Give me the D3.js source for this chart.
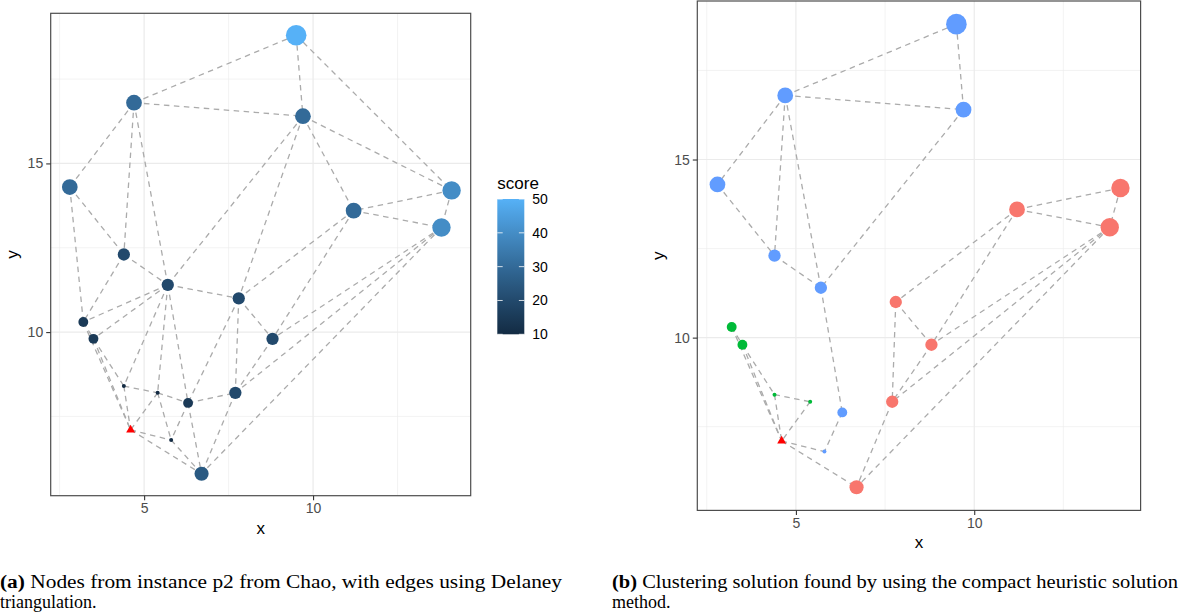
<!DOCTYPE html>
<html>
<head>
<meta charset="utf-8">
<script src="https://cdnjs.cloudflare.com/ajax/libs/d3/7.8.5/d3.min.js"></script>
<style>
    body { margin: 0; background: #fff; }
    svg { display: block; }
</style>
</head>
<body>
<svg id="chart" width="1184" height="615"></svg>
<script>
// node coordinates (index 17 is the depot)
const nodeX = [9.5, 4.7, 9.7, 2.8, 14.1, 11.2, 13.8, 4.4, 5.7, 7.8, 3.2, 3.5, 8.8, 4.4, 5.4, 6.3, 7.7, 4.6, 5.8, 6.7];
const nodeY = [18.8, 16.8, 16.4, 14.3, 14.2, 13.6, 13.1, 12.3, 11.4, 11.0, 10.3, 9.8, 9.8, 8.4, 8.2, 7.9, 8.2, 7.1, 6.8, 5.8];
const nodeScore = [50, 30, 30, 30, 40, 30, 40, 20, 20, 20, 15, 15, 20, 10, 10, 15, 20, null, 10, 25];
// cluster of each node in the heuristic solution: 1 red, 2 green, 3 blue, 0 depot
const nodeCluster = [3, 3, 3, 3, 1, 1, 1, 3, 3, 1, 2, 2, 1, 2, 2, 3, 1, 0, 3, 1];

// delaunay edges (pairs of node indices)
const edges = [
    [0, 1], [0, 2], [0, 4],
    [1, 2], [1, 3], [1, 7], [1, 8],
    [2, 4], [2, 5], [2, 8], [2, 9],
    [3, 7], [3, 10],
    [4, 5], [4, 6],
    [5, 6], [5, 9], [5, 12],
    [6, 12], [6, 16], [6, 19],
    [7, 8], [7, 10],
    [8, 9], [8, 10], [8, 11], [8, 13], [8, 14], [8, 15],
    [9, 12], [9, 15], [9, 16],
    [10, 11], [10, 17],
    [11, 13], [11, 17],
    [12, 16],
    [13, 14], [13, 17],
    [14, 15], [14, 17], [14, 18],
    [15, 16], [15, 18], [15, 19],
    [16, 19],
    [17, 18], [17, 19],
    [18, 19]
];

const xTicks = [5, 10];
const yTicks = [10, 15];
const xMinor = [2.5, 7.5, 12.5];
const yMinor = [7.5, 12.5, 17.5];
const scoreBreaks = [10, 20, 30, 40, 50];

const clusterColors = { 1: '#F8766D', 2: '#00BA38', 3: '#619CFF' };

const captionA = ['(a)', ' Nodes from instance p2 from Chao, with edges using Delaney', 'triangulation.'];
const captionB = ['(b)', ' Clustering solution found by using the compact heuristic solution', 'method.'];

const svg = d3.select('#chart');

// ggplot style 5% expansion of the data range
function expand(values) {
    const [lo, hi] = d3.extent(values);
    const pad = (hi - lo) * 0.05;
    return [lo - pad, hi + pad];
}
const xDomain = expand(nodeX);
const yDomain = expand(nodeY);

const scoreExtent = d3.extent(nodeScore.filter(s => s !== null));
const colorScale = d3.scaleLinear()
    .domain(scoreExtent)
    .range(['#132B43', '#56B1F7'])
    .interpolate(d3.interpolateLab);
// area palette like scale_size
const sizeScale = d3.scaleLinear().domain([0, 1]).range([2, 10.3]);
function radius(score) {
    return sizeScale(Math.sqrt((score - scoreExtent[0]) / (scoreExtent[1] - scoreExtent[0])));
}

const nodes = nodeX.map((v, i) => ({ i: i, x: v, y: nodeY[i], score: nodeScore[i], cluster: nodeCluster[i] }));

function drawPanel(box, fillFor, edgeFilter) {
    const x = d3.scaleLinear().domain(xDomain).range([box.left, box.right]);
    const y = d3.scaleLinear().domain(yDomain).range([box.bottom, box.top]);
    const g = svg.append('g');

    // minor grid
    g.selectAll('.gx-minor').data(xMinor).enter().append('line')
        .attr('x1', d => x(d)).attr('x2', d => x(d))
        .attr('y1', box.top).attr('y2', box.bottom)
        .attr('stroke', '#ebebeb').attr('stroke-width', 0.6);
    g.selectAll('.gy-minor').data(yMinor).enter().append('line')
        .attr('y1', d => y(d)).attr('y2', d => y(d))
        .attr('x1', box.left).attr('x2', box.right)
        .attr('stroke', '#ebebeb').attr('stroke-width', 0.6);
    // major grid
    g.selectAll('.gx-major').data(xTicks).enter().append('line')
        .attr('x1', d => x(d)).attr('x2', d => x(d))
        .attr('y1', box.top).attr('y2', box.bottom)
        .attr('stroke', '#ebebeb').attr('stroke-width', 1.2);
    g.selectAll('.gy-major').data(yTicks).enter().append('line')
        .attr('y1', d => y(d)).attr('y2', d => y(d))
        .attr('x1', box.left).attr('x2', box.right)
        .attr('stroke', '#ebebeb').attr('stroke-width', 1.2);

    // edges
    g.selectAll('.edge').data(edges.filter(edgeFilter)).enter().append('line')
        .attr('x1', d => x(nodeX[d[0]])).attr('y1', d => y(nodeY[d[0]]))
        .attr('x2', d => x(nodeX[d[1]])).attr('y2', d => y(nodeY[d[1]]))
        .attr('stroke', '#ababab')
        .attr('stroke-width', 1.3)
        .attr('stroke-dasharray', '5.5,4.5');

    // nodes
    g.selectAll('.node').data(nodes.filter(d => d.score !== null)).enter().append('circle')
        .attr('cx', d => x(d.x)).attr('cy', d => y(d.y))
        .attr('r', d => radius(d.score))
        .attr('fill', fillFor);

    // depot
    g.selectAll('.depot').data(nodes.filter(d => d.score === null)).enter().append('path')
        .attr('d', d3.symbol(d3.symbolTriangle, 34))
        .attr('transform', d => `translate(${x(d.x)},${y(d.y)})`)
        .attr('fill', '#FF0000');

    // border
    g.append('rect')
        .attr('x', box.left).attr('y', box.top)
        .attr('width', box.right - box.left).attr('height', box.bottom - box.top)
        .attr('fill', 'none').attr('stroke', '#4d4d4d').attr('stroke-width', 1.2);

    // axes
    const xAxis = g.append('g')
        .attr('transform', `translate(0,${box.bottom})`)
        .call(d3.axisBottom(x).tickValues(xTicks).tickSize(4.5).tickPadding(3));
    const yAxis = g.append('g')
        .attr('transform', `translate(${box.left},0)`)
        .call(d3.axisLeft(y).tickValues(yTicks).tickSize(4.5).tickPadding(3));
    [xAxis, yAxis].forEach(a => {
        a.select('.domain').remove();
        a.selectAll('line').attr('stroke', '#333').attr('stroke-width', 1.1);
        a.selectAll('text')
            .attr('fill', '#4d4d4d')
            .style('font-family', '"Liberation Sans", Arial, sans-serif')
            .style('font-size', '14px');
    });

    // axis titles
    g.append('text')
        .attr('x', (box.left + box.right) / 2)
        .attr('y', box.bottom + 38)
        .attr('text-anchor', 'middle')
        .style('font-family', '"Liberation Sans", Arial, sans-serif')
        .style('font-size', '17px')
        .text('x');
    g.append('text')
        .attr('transform', `translate(${box.left - 33},${(box.top + box.bottom) / 2}) rotate(-90)`)
        .attr('text-anchor', 'middle')
        .style('font-family', '"Liberation Sans", Arial, sans-serif')
        .style('font-size', '17px')
        .text('y');
}

// (a) score colours, all delaunay edges
drawPanel({ left: 50.7, right: 470.7, top: 13.3, bottom: 495.7 },
    d => colorScale(d.score),
    () => true);

// (b) cluster colours, edges inside a cluster or touching the depot
drawPanel({ left: 697.3, right: 1140.6, top: 1, bottom: 510.4 },
    d => clusterColors[d.cluster],
    e => nodeCluster[e[0]] === nodeCluster[e[1]] || nodeCluster[e[0]] === 0 || nodeCluster[e[1]] === 0);

// colour bar legend
function drawLegend() {
    const bar = { left: 497.3, width: 27, top: 199, bottom: 334.3 };
    const s = d3.scaleLinear().domain(scoreExtent).range([bar.bottom, bar.top]);
    const defs = svg.append('defs');
    const grad = defs.append('linearGradient')
        .attr('id', 'scoreGrad')
        .attr('x1', 0).attr('y1', 1).attr('x2', 0).attr('y2', 0);
    d3.range(0, 1.0001, 0.05).forEach(t => {
        grad.append('stop')
            .attr('offset', t)
            .attr('stop-color', colorScale(scoreExtent[0] + t * (scoreExtent[1] - scoreExtent[0])));
    });
    const g = svg.append('g');
    g.append('text')
        .attr('x', bar.left).attr('y', bar.top - 10)
        .style('font-family', '"Liberation Sans", Arial, sans-serif')
        .style('font-size', '17px')
        .text('score');
    g.append('rect')
        .attr('x', bar.left).attr('y', bar.top)
        .attr('width', bar.width).attr('height', bar.bottom - bar.top)
        .attr('fill', 'url(#scoreGrad)');
    scoreBreaks.forEach(b => {
        g.append('line')
            .attr('x1', bar.left).attr('x2', bar.left + 5.4)
            .attr('y1', s(b)).attr('y2', s(b))
            .attr('stroke', '#fff').attr('stroke-width', 0.8);
        g.append('line')
            .attr('x1', bar.left + bar.width - 5.4).attr('x2', bar.left + bar.width)
            .attr('y1', s(b)).attr('y2', s(b))
            .attr('stroke', '#fff').attr('stroke-width', 0.8);
        g.append('text')
            .attr('x', bar.left + bar.width + 8).attr('y', s(b))
            .attr('dy', '0.35em')
            .style('font-family', '"Liberation Sans", Arial, sans-serif')
            .style('font-size', '14px')
            .text(b);
    });
}
drawLegend();

// captions below both panels
function drawCaption(x0, lines, width1) {
    const t1 = svg.append('text')
        .attr('x', x0).attr('y', 588)
        .attr('textLength', width1)
        .attr('lengthAdjust', 'spacingAndGlyphs')
        .style('font-family', '"Liberation Serif", "Times New Roman", serif')
        .style('font-size', '18px');
    t1.append('tspan').style('font-weight', 'bold').text(lines[0]);
    t1.append('tspan').text(lines[1]);
    svg.append('text')
        .attr('x', x0).attr('y', 608)
        .style('font-family', '"Liberation Serif", "Times New Roman", serif')
        .style('font-size', '18px')
        .text(lines[2]);
}
drawCaption(0, captionA, 562);
drawCaption(612, captionB, 566);
</script>
</body>
</html>
